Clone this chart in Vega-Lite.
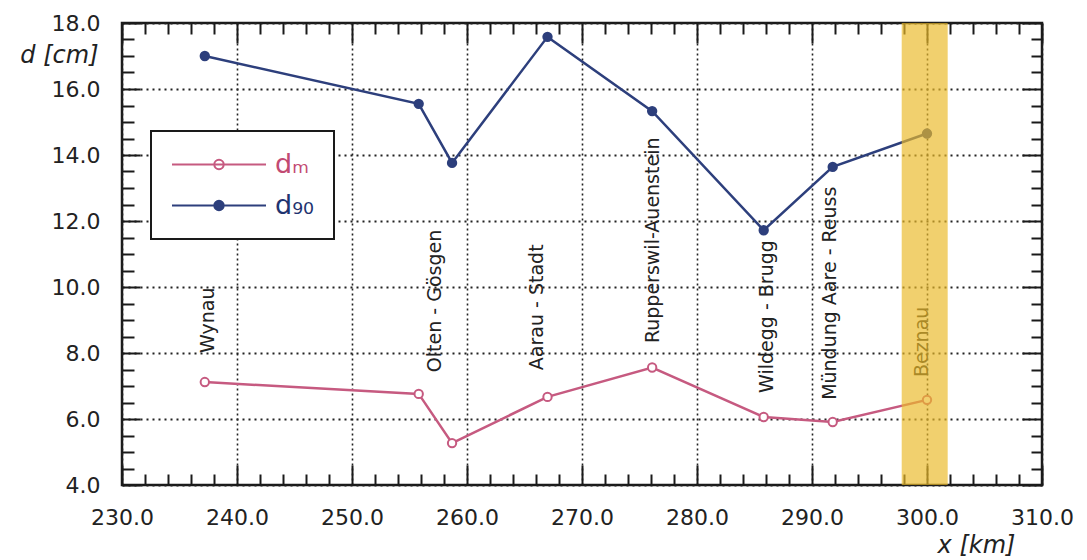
{
  "$schema": "https://vega.github.io/schema/vega-lite/v6.json",
  "width": 920,
  "height": 462,
  "autosize": "none",
  "padding": {"left": 122, "top": 23, "right": 45, "bottom": 75},
  "background": "white",
  "config": {
    "font": "DejaVu Sans",
    "view": {"stroke": "#1a1a1a", "strokeWidth": 2.5},
    "axis": {"ticks": true}
  },
  "datasets": {
    "d": [
      {"x": 237.2, "d": 17.0, "series": "d90"},
      {"x": 255.8, "d": 15.55, "series": "d90"},
      {"x": 258.7, "d": 13.76, "series": "d90"},
      {"x": 267.0, "d": 17.58, "series": "d90"},
      {"x": 276.1, "d": 15.33, "series": "d90"},
      {"x": 285.8, "d": 11.72, "series": "d90"},
      {"x": 291.8, "d": 13.64, "series": "d90"},
      {"x": 300.0, "d": 14.65, "series": "d90"},
      {"x": 237.2, "d": 7.12, "series": "dm"},
      {"x": 255.8, "d": 6.76, "series": "dm"},
      {"x": 258.7, "d": 5.27, "series": "dm"},
      {"x": 267.0, "d": 6.67, "series": "dm"},
      {"x": 276.1, "d": 7.56, "series": "dm"},
      {"x": 285.8, "d": 6.06, "series": "dm"},
      {"x": 291.8, "d": 5.91, "series": "dm"},
      {"x": 300.0, "d": 6.58, "series": "dm"}
    ],
    "labels": [
      {"name": "Wynau", "lx": 237.5, "ly": 8.0},
      {"name": "Olten - Gösgen", "lx": 257.2, "ly": 7.42},
      {"name": "Aarau - Stadt", "lx": 266.1, "ly": 7.48},
      {"name": "Rupperswil-Auenstein", "lx": 276.2, "ly": 8.3},
      {"name": "Wildegg - Brugg", "lx": 286.1, "ly": 6.79},
      {"name": "Mündung Aare - Reuss", "lx": 291.6, "ly": 6.58},
      {"name": "Beznau", "lx": 299.6, "ly": 7.27}
    ],
    "band": [{"x0": 297.8, "x1": 301.8, "y0": 4, "y1": 18}]
  },
  "resolve": {"axis": {"x": "independent", "y": "independent"}},
  "layer": [
    {
      "data": {"name": "d"},
      "mark": {"type": "line", "strokeWidth": 2.5},
      "encoding": {
        "x": {
          "field": "x", "type": "quantitative",
          "scale": {"domain": [230, 310], "nice": false, "zero": false},
          "axis": {
            "orient": "bottom",
            "values": [232,234,236,238,242,244,246,248,252,254,256,258,262,264,266,268,272,274,276,278,282,284,286,288,292,294,296,298,302,304,306,308],
            "labels": false, "grid": false, "domain": false, "title": null,
            "ticks": true, "offset": -11, "tickSize": 11, "tickColor": "#1a1a1a", "tickWidth": 2
          }
        },
        "y": {
          "field": "d", "type": "quantitative",
          "scale": {"domain": [4, 18], "nice": false, "zero": false},
          "axis": {
            "orient": "left",
            "values": [4.5,5,5.5,6.5,7,7.5,8.5,9,9.5,10.5,11,11.5,12.5,13,13.5,14.5,15,15.5,16.5,17,17.5],
            "labels": false, "grid": false, "domain": false, "title": null,
            "ticks": true, "offset": -12, "tickSize": 12, "tickColor": "#1a1a1a", "tickWidth": 2
          }
        },
        "color": {
          "field": "series", "type": "nominal",
          "scale": {"domain": ["dm", "d90"], "range": ["#c65a80", "#2d3f7c"]},
          "legend": {
            "title": null,
            "orient": "none", "legendX": 29, "legendY": 108,
            "direction": "vertical",
            "fillColor": "white", "strokeColor": "#1a1a1a", "padding": 20,
            "symbolType": "M-1,0L1,0M-0.1,0A0.1,0.1,0,1,1,0.1,0A0.1,0.1,0,1,1,-0.1,0Z",
            "symbolSize": 8836, "symbolStrokeWidth": 2,
            "clipHeight": 27, "rowPadding": 13,
            "labelFontSize": 27, "labelOffset": 8,
            "labelExpr": "datum.value == 'dm' ? 'dₘ' : 'd₉₀'",
            "encode": {
              "symbols": {"update": {"fill": {"signal": "datum.value == 'd90' ? '#2d3f7c' : '#ffffff'"}, "opacity": {"value": 1}}},
              "labels": {"update": {"fill": {"signal": "datum.value == 'd90' ? '#1f3470' : '#c24a72'"}}},
              "legend": {"update": {"strokeWidth": {"value": 2}}}
            }
          }
        }
      }
    },
    {
      "data": {"name": "d"},
      "mark": {"type": "point", "shape": "circle", "size": 70, "strokeWidth": 2, "opacity": 1},
      "encoding": {
        "x": {
          "field": "x", "type": "quantitative",
          "scale": {"domain": [230, 310], "nice": false, "zero": false},
          "axis": {
            "orient": "top",
            "values": [232,234,236,238,242,244,246,248,252,254,256,258,262,264,266,268,272,274,276,278,282,284,286,288,292,294,296,298,302,304,306,308],
            "labels": false, "grid": false, "domain": false, "title": null,
            "ticks": true, "offset": -11, "tickSize": 11, "tickColor": "#1a1a1a", "tickWidth": 2
          }
        },
        "y": {
          "field": "d", "type": "quantitative",
          "scale": {"domain": [4, 18], "nice": false, "zero": false},
          "axis": {
            "orient": "right",
            "values": [4.5,5,5.5,6.5,7,7.5,8.5,9,9.5,10.5,11,11.5,12.5,13,13.5,14.5,15,15.5,16.5,17,17.5],
            "labels": false, "grid": false, "domain": false, "title": null,
            "ticks": true, "offset": -11, "tickSize": 11, "tickColor": "#1a1a1a", "tickWidth": 2
          }
        },
        "stroke": {
          "field": "series", "type": "nominal",
          "scale": {"domain": ["dm", "d90"], "range": ["#c65a80", "#2d3f7c"]},
          "legend": null
        },
        "fill": {
          "field": "series", "type": "nominal",
          "scale": {"domain": ["dm", "d90"], "range": ["#ffffff", "#2d3f7c"]},
          "legend": null
        }
      }
    },
    {
      "data": {"name": "labels"},
      "mark": {"type": "text", "angle": 270, "align": "left", "baseline": "middle", "fontSize": 19, "font": "DejaVu Sans", "color": "#222"},
      "encoding": {
        "x": {
          "field": "lx", "type": "quantitative",
          "scale": {"domain": [230, 310], "nice": false, "zero": false},
          "axis": {
            "orient": "bottom",
            "values": [230, 240, 250, 260, 270, 280, 290, 300, 310],
            "format": ".1f",
            "ticks": true, "offset": -20, "tickSize": 20, "tickColor": "#1a1a1a", "tickWidth": 2,
            "grid": true, "gridDash": [2, 3], "gridColor": "#222", "gridWidth": 1.6,
            "domain": false,
            "labelFontSize": 22, "labelColor": "#222", "labelPadding": 22,
            "labelFlush": false, "labelOverlap": false,
            "title": "x [km]", "titleFontStyle": "italic", "titleFontWeight": "normal",
            "titleFontSize": 24, "titleColor": "#222",
            "titleX": 854, "titleY": 80, "titleAlign": "center", "titleBaseline": "middle", "titleAngle": 0
          }
        },
        "y": {
          "field": "ly", "type": "quantitative",
          "scale": {"domain": [4, 18], "nice": false, "zero": false},
          "axis": {
            "orient": "left",
            "values": [4, 6, 8, 10, 12, 14, 16, 18],
            "format": ".1f",
            "ticks": true, "offset": -18, "tickSize": 18, "tickColor": "#1a1a1a", "tickWidth": 2,
            "grid": true, "gridDash": [2, 4], "gridColor": "#222", "gridWidth": 1.8,
            "domain": false,
            "labelFontSize": 22, "labelColor": "#222", "labelPadding": 22,
            "labelFlush": false, "labelOverlap": false,
            "title": "d [cm]", "titleFontStyle": "italic", "titleFontWeight": "normal",
            "titleFontSize": 24, "titleColor": "#222",
            "titleAngle": 0, "titleAlign": "right", "titleBaseline": "middle",
            "titleX": -42, "titleY": 32
          }
        },
        "text": {"field": "name", "type": "nominal"}
      }
    },
    {
      "data": {"name": "band"},
      "mark": {"type": "rect", "color": "#eab92a", "opacity": 0.68},
      "encoding": {
        "x": {
          "field": "x0", "type": "quantitative",
          "scale": {"domain": [230, 310], "nice": false, "zero": false},
          "axis": {
            "orient": "top",
            "values": [230, 240, 250, 260, 270, 280, 290, 300, 310],
            "labels": false, "grid": false, "domain": false, "title": null,
            "ticks": true, "offset": -20, "tickSize": 20, "tickColor": "#1a1a1a", "tickWidth": 2
          }
        },
        "x2": {"field": "x1"},
        "y": {
          "field": "y0", "type": "quantitative",
          "scale": {"domain": [4, 18], "nice": false, "zero": false},
          "axis": {
            "orient": "right",
            "values": [4, 6, 8, 10, 12, 14, 16, 18],
            "labels": false, "grid": false, "domain": false, "title": null,
            "ticks": true, "offset": -20, "tickSize": 20, "tickColor": "#1a1a1a", "tickWidth": 2
          }
        },
        "y2": {"field": "y1"}
      }
    }
  ]
}
